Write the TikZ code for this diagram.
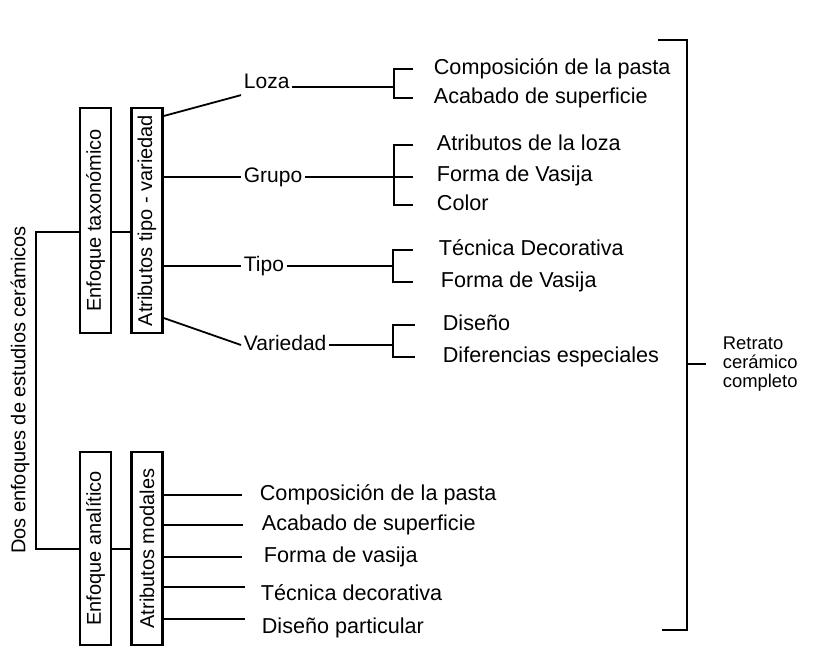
\documentclass[tikz,border=0pt]{standalone}
\usepackage{fontspec}
\setmainfont{Liberation Sans}

\begin{document}
\begin{tikzpicture}[x=0.5pt, y=-0.5pt, line width=0.9pt,
    vbox/.style={draw, line width=1.2pt, rotate=90, minimum height=15.5pt, inner sep=0pt, font=\fontsize{10}{12}\selectfont},
    mid/.style={anchor=west, inner sep=1pt, text height=0.72em, text depth=0.2em, font=\fontsize{10.5}{12}\selectfont},
    leaf/.style={anchor=west, inner sep=1pt, text height=0.72em, text depth=0.2em, font=\fontsize{10.8}{12}\selectfont}]
    \useasboundingbox (0,0) rectangle (814,655);

    % left side
    \node[rotate=90, font=\fontsize{10}{12}\selectfont] (dos) at (20,390) {Dos enfoques de estudios cerámicos};
    \node[vbox, minimum width=112.5pt] (taxo) at (95.5,220.5) {Enfoque taxonómico};
    \node[vbox, minimum width=112.5pt] (atipo) at (147,220.5) {Atributos tipo - variedad};
    \node[vbox, minimum width=96.5pt] (anali) at (95.5,548.5) {Enfoque analítico};
    \node[vbox, minimum width=96.5pt] (amod) at (147,548.5) {Atributos modales};

    \coordinate (dtop) at (36,232);
    \coordinate (dbot) at (36,549);
    \draw (taxo.north |- dtop) -- (dtop) -- (dbot) -- (anali.north |- dbot);
    \draw (taxo.south |- dtop) -- (atipo.north |- dtop);
    \draw (anali.south |- dbot) -- (amod.north |- dbot);

    % tipo - variedad
    \node[mid] (loza) at (241,83) {Loza};
    \node[mid] (grupo) at (241,177) {Grupo};
    \node[mid] (tipo) at (241,266) {Tipo};
    \node[mid] (varie) at (241,345) {Variedad};

    \draw (atipo.south |- 0,116) -- (loza.south west);
    \draw (atipo.south |- grupo.west) -- (grupo.west);
    \draw (atipo.south |- tipo.west) -- (tipo.west);
    \draw (atipo.south |- 0,318) -- (varie.west);

    \node[leaf] (lz1) at (431,69) {Composición de la pasta};
    \node[leaf] (lz2) at (431,98) {Acabado de superficie};
    \node[leaf] (gr1) at (434,145) {Atributos de la loza};
    \node[leaf] (gr2) at (434,176) {Forma de Vasija};
    \node[leaf] (gr3) at (434,205) {Color};
    \node[leaf] (tp1) at (436,250) {Técnica Decorativa};
    \node[leaf] (tp2) at (438,282) {Forma de Vasija};
    \node[leaf] (vr1) at (440,325) {Diseño};
    \node[leaf] (vr2) at (440,357) {Diferencias especiales};

    \draw ([yshift=-2pt]loza.east) -- ([yshift=-2pt]loza.east -| 394,0);
    \draw (grupo.east) -- (grupo.east -| 413,0);
    \draw (tipo.east) -- (tipo.east -| 393,0);
    \draw (varie.east) -- (varie.east -| 393,0);

    \draw (lz1.west -| 413,0) -| (lz2.west -| 394,0) -- (lz2.west -| 413,0);
    \draw (gr1.west -| 413,0) -| (gr3.west -| 394,0) -- (gr3.west -| 413,0);
    \draw (tp1.west -| 413,0) -| (tp2.west -| 393,0) -- (tp2.west -| 413,0);
    \draw (vr1.west -| 415,0) -| (vr2.west -| 393,0) -- (vr2.west -| 415,0);

    % modales
    \node[leaf] (m1) at (257,495) {Composición de la pasta};
    \node[leaf] (m2) at (259,525) {Acabado de superficie};
    \node[leaf] (m3) at (261,557) {Forma de vasija};
    \node[leaf] (m4) at (258,595) {Técnica decorativa};
    \node[leaf] (m5) at (259,628) {Diseño particular};

    \coordinate (t1) at ([xshift=-7.5pt]m1.west);
    \coordinate (t2) at ([xshift=-8pt]m2.west);
    \coordinate (t3) at ([xshift=-9.5pt]m3.west);
    \coordinate (t4) at ([xshift=-6.5pt,yshift=4pt]m4.west);
    \coordinate (t5) at ([xshift=-7pt,yshift=4.5pt]m5.west);
    \draw (amod.south |- t1) -- (t1);
    \draw (amod.south |- t2) -- (t2);
    \draw (amod.south |- t3) -- (t3);
    \draw (amod.south |- t4) -- (t4);
    \draw (amod.south |- t5) -- (t5);

    % retrato
    \node[anchor=west, align=left, inner sep=1pt, font=\fontsize{9.2}{9.5}\selectfont] (retr) at (720,364) {Retrato\\cerámico\\completo};
    \coordinate (rt) at (687,40);
    \coordinate (rb) at (687,630);
    \draw (658,40) -- (rt) -- (rb) -- (662,630);
    \draw (rt |- retr.west) -- ([xshift=-7pt]retr.west);
  \end{tikzpicture}
\end{document}
